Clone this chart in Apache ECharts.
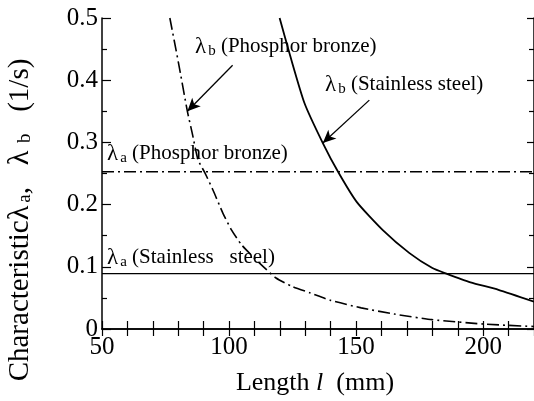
<!DOCTYPE html>
<html>
<head>
<meta charset="utf-8">
<script src="https://cdn.jsdelivr.net/npm/echarts@6/dist/echarts.min.js"></script>
<style>html,body{margin:0;padding:0;background:#fff}#c{width:534px;height:401px}</style>
</head>
<body>
<div id="c"></div>
<script>
// Data
var xTicks = [50, 100, 150, 200];
var yTicks = [0, 0.1, 0.2, 0.3, 0.4, 0.5];

var bronzeLength = [76.7, 80, 83.6, 85.5, 87.8, 90.5, 93.7, 97.6, 101, 105, 112, 118.5, 125, 132, 140, 152, 165, 180, 200, 220];
var bronzeLambdaB = [0.5, 0.43, 0.35, 0.315, 0.272, 0.251, 0.223, 0.186, 0.159, 0.135, 0.106, 0.082, 0.068, 0.058, 0.046, 0.034, 0.024, 0.015, 0.008, 0.004];

var steelLength = [119.9, 124, 129.7, 136.9, 143, 150.3, 160.5, 171, 180, 185.5, 195, 206, 220];
var steelLambdaB = [0.5, 0.44, 0.363, 0.299, 0.252, 0.204, 0.159, 0.122, 0.098, 0.089, 0.075, 0.063, 0.044];

var bronzeLambdaA = 0.253;
var steelLambdaA = 0.089;

var xRange = [50, 220];

// arrows (start -> tip) in data coordinates
var bronzeArrow = [[101.4, 0.424], [83.6, 0.350]];
var steelArrow = [[155.2, 0.368], [136.9, 0.299]];

function zip(a, b) { return a.map(function (v, i) { return [v, b[i]]; }); }

var FONT = 'Liberation Serif';
var chart = echarts.init(document.getElementById('c'), null, {renderer: 'canvas'});

var richLab = {
  t: {fontFamily: FONT, fontSize: 21, color: '#000'},
  l: {fontFamily: FONT, fontSize: 23, color: '#000'},
  s: {fontFamily: FONT, fontSize: 15, color: '#000', padding: [10, 0, 0, 2]}
};

function annot(x, y, sub, txt) {
  return {
    type: 'text', left: x, top: y,
    style: {
      text: '{l|λ}{s|' + sub + '}{t| ' + txt + '}',
      rich: richLab
    }
  };
}

var option = {
  animation: false,
  backgroundColor: '#fff',
  grid: {left: 102, right: -2, top: 18, bottom: 72},
  xAxis: [{
    type: 'value', min: xRange[0], max: xRange[1], interval: 10,
    axisLine: {show: true, onZero: false, lineStyle: {color: '#000', width: 1.5}},
    axisTick: {show: true, inside: true, length: 8, lineStyle: {color: '#000', width: 1.2}},
    splitLine: {show: false},
    axisLabel: {
      interval: 0, showMaxLabel: false, margin: 6,
      fontFamily: FONT, fontSize: 25, color: '#000',
      formatter: function (v) { return xTicks.indexOf(v) >= 0 ? String(v) : ''; }
    }
  }, {
    type: 'value', position: 'top', min: xRange[0], max: xRange[1], interval: 10,
    axisLine: {show: true, lineStyle: {color: '#000', width: 1.5}},
    axisTick: {show: true, inside: true, length: 7, lineStyle: {color: '#000', width: 1.2}},
    axisLabel: {show: false}, splitLine: {show: false}
  }],
  yAxis: [{
    type: 'value', min: 0, max: 0.5, interval: 0.1,
    axisLine: {show: true, onZero: false, lineStyle: {color: '#000', width: 1.5}},
    axisTick: {show: true, inside: true, length: 9, lineStyle: {color: '#000', width: 1.2}},
    minorTick: {show: true, splitNumber: 2, length: 5, lineStyle: {color: '#000', width: 1.2}},
    splitLine: {show: false},
    axisLabel: {
      margin: 4, fontFamily: FONT, fontSize: 25, color: '#000',
      formatter: function (v) { var r = Math.round(v * 10) / 10; return r === 0 ? '0' : r.toFixed(1); }
    }
  }, {
    type: 'value', position: 'right', min: 0, max: 0.5, interval: 0.1,
    axisLine: {show: true, lineStyle: {color: '#000', width: 1.5}},
    axisTick: {show: true, inside: true, length: 7, lineStyle: {color: '#000', width: 1.2}},
    minorTick: {show: true, splitNumber: 2, length: 5, lineStyle: {color: '#000', width: 1.2}},
    axisLabel: {show: false}, splitLine: {show: false}
  }],
  series: [
    {
      type: 'line', data: zip(bronzeLength, bronzeLambdaB), showSymbol: false, smooth: 0.2,
      lineStyle: {color: '#000', width: 1.6, type: [12, 4, 2, 4]},
      markLine: {
        silent: true, symbol: ['none', 'arrow'], symbolSize: [9, 13],
        label: {show: false},
        lineStyle: {color: '#000', width: 1.3, type: 'solid'},
        data: [[{coord: bronzeArrow[0]}, {coord: bronzeArrow[1]}]]
      }
    },
    {
      type: 'line', data: zip(steelLength, steelLambdaB), showSymbol: false, smooth: 0.2,
      lineStyle: {color: '#000', width: 1.8},
      markLine: {
        silent: true, symbol: ['none', 'arrow'], symbolSize: [9, 13],
        label: {show: false},
        lineStyle: {color: '#000', width: 1.3, type: 'solid'},
        data: [[{coord: steelArrow[0]}, {coord: steelArrow[1]}]]
      }
    },
    {
      type: 'line', data: [[xRange[0], bronzeLambdaA], [xRange[1], bronzeLambdaA]], showSymbol: false,
      lineStyle: {color: '#000', width: 1.5, type: [12, 4, 2, 4]}
    },
    {
      type: 'line', data: [[xRange[0], steelLambdaA], [xRange[1], steelLambdaA]], showSymbol: false,
      lineStyle: {color: '#000', width: 1.3}
    }
  ],
  graphic: [
    annot(107, 142, 'a', '(Phosphor bronze)'),
    annot(107, 246, 'a', '(Stainless   steel)'),
    annot(195, 35, 'b', '(Phosphor bronze)'),
    annot(325, 73, 'b', '(Stainless steel)'),
    {
      type: 'text', x: 315, y: 383,
      style: {
        text: '{t|Length }{i|l}{t|  (mm)}',
        align: 'center', verticalAlign: 'middle',
        rich: {
          t: {fontFamily: FONT, fontSize: 26, color: '#000'},
          i: {fontFamily: FONT, fontSize: 26, fontStyle: 'italic', color: '#000'}
        }
      }
    },
    {
      type: 'text', x: 20, y: 220, rotation: Math.PI / 2,
      style: {
        text: '{t|Characteristic}{l|λ}{s|a}{t|,   }{l|λ}{s| b}{t|   (1/s)}',
        align: 'center', verticalAlign: 'middle',
        rich: {
          t: {fontFamily: FONT, fontSize: 29, color: '#000'},
          l: {fontFamily: FONT, fontSize: 30, color: '#000'},
          s: {fontFamily: FONT, fontSize: 19, color: '#000', padding: [11, 0, 0, 3]}
        }
      }
    }
  ]
};
chart.setOption(option);
</script>
</body>
</html>
